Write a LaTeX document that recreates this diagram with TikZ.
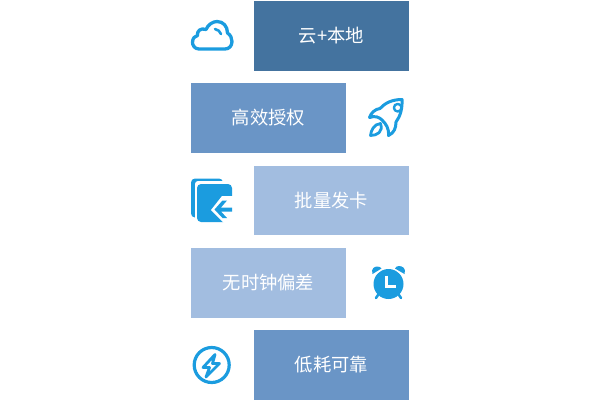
\documentclass[tikz,border=0pt]{standalone}
\usepackage{fontspec}
\setmainfont{Noto Sans CJK SC}
\definecolor{boxA}{HTML}{44739F}
\definecolor{boxB}{HTML}{6A95C6}
\definecolor{boxC}{HTML}{A2BDE0}
\definecolor{iconblue}{HTML}{1B9CDF}
\tikzset{
  card/.style={minimum width=155bp,minimum height=70bp,inner sep=0pt,text=white,font=\fontsize{18.3bp}{21bp}\selectfont},
  iconline/.style={draw=iconblue,line width=3.3bp,line join=round,line cap=round},
  iconfill/.style={fill=iconblue,draw=none}
}
\begin{document}
\begin{tikzpicture}[x=1bp,y=-1bp]
\useasboundingbox (0,0) rectangle (600,401);
\node[card,fill=boxA] (b1) at (331.5,36) {云+本地};
\node[card,fill=boxB] (b2) at (268.5,118) {高效授权};
\node[card,fill=boxC,minimum height=69.5bp] (b3) at (331.5,200.3) {批量发卡};
\node[card,fill=boxC] (b4) at (268.5,283) {无时钟偏差};
\node[card,fill=boxB] (b5) at (331.5,365) {低耗可靠};
% cloud
\draw[iconline] (199,49) .. controls (194.5,49) and (192.5,45) .. (192.5,42.5)
  .. controls (192.5,38) and (195,36) .. (197.5,35.5)
  .. controls (196.5,31) and (201,27.5) .. (206,29.5)
  .. controls (208,24.5) and (213,21.5) .. (217,21.5)
  .. controls (223,21.5) and (227.5,26) .. (227.5,33)
  .. controls (230.5,35) and (232,38) .. (232,41.5)
  .. controls (232,46) and (229,49) .. (225,49) -- cycle;
\draw[iconline,line width=2.6bp] (215,29) .. controls (218,29.5) and (220,31.5) .. (221,34);
% rocket
\draw[iconline,line width=3bp] (402,99.5) .. controls (392,99.5) and (385,103) .. (380,108.5)
  .. controls (375,109) and (371,113) .. (369.5,117.5)
  .. controls (375,115.5) and (379,117) .. (382,120)
  .. controls (386,124) and (389,128) .. (388.5,135.5)
  .. controls (394,133) and (396,128) .. (396,122)
  .. controls (400.5,116) and (402.5,108) .. (402,99.5) -- cycle;
\draw[iconline,line width=2.8bp] (380.5,123.5) .. controls (373.5,124) and (371,131) .. (370.5,135.5)
  .. controls (377,135.5) and (383.5,132) .. (380.5,123.5) -- cycle;
\draw[iconline,line width=2.4bp] (397.7,107.7) circle (3.8);
% pages
\path[iconfill,rounded corners=4bp] (191,178.5) rectangle (223,217.5);
\path[fill=white,rounded corners=3bp] (195,181) rectangle (234,224);
\path[iconfill,rounded corners=4bp] (197,184) rectangle (232,222);
\path[fill=white] (222,196) -- (233,196) -- (233,223) -- (224,223) -- (211,210) -- cycle;
\path[iconfill] (222.5,200.5) -- (214.5,209.5) -- (222.5,218) -- (227,218) -- (221,211.5) -- (232,211.5) -- (232,207.5) -- (221,207.5) -- (227,200.5) -- cycle;
% clock
\path[iconfill] (388.5,284) circle (15);
\path[fill=white] (372,273) -- (379.5,268.7) -- (381,270.8) -- (374,275.5) -- cycle;
\path[fill=white] (405,273) -- (397.5,268.7) -- (396,270.8) -- (403,275.5) -- cycle;
\path[iconfill] (372.5,274) .. controls (370.5,268) and (375,266.5) .. (377.5,266.5) .. controls (379.5,266.5) and (381,267.5) .. (381.5,268.5) -- cycle;
\path[iconfill] (404.5,274) .. controls (406.5,268) and (402,266) .. (399,266) .. controls (397,266) and (395.5,267) .. (395,268.5) -- cycle;
\draw[iconline,line width=2.6bp] (378,295) -- (376,298) (399,295) -- (401,298);
\draw[draw=white,line width=3bp,line join=miter] (386.5,275.5) -- (386.5,286.5) -- (396,286.5);
% bolt
\draw[iconline,line width=3.2bp] (211.7,365) circle (17.5);
\draw[iconline,line width=2.8bp] (215,354.5) -- (203,367.5) -- (209.5,367.5) -- (206,377) -- (219.5,363.5) -- (212.5,363.5) -- cycle;
\end{tikzpicture}
\end{document}
